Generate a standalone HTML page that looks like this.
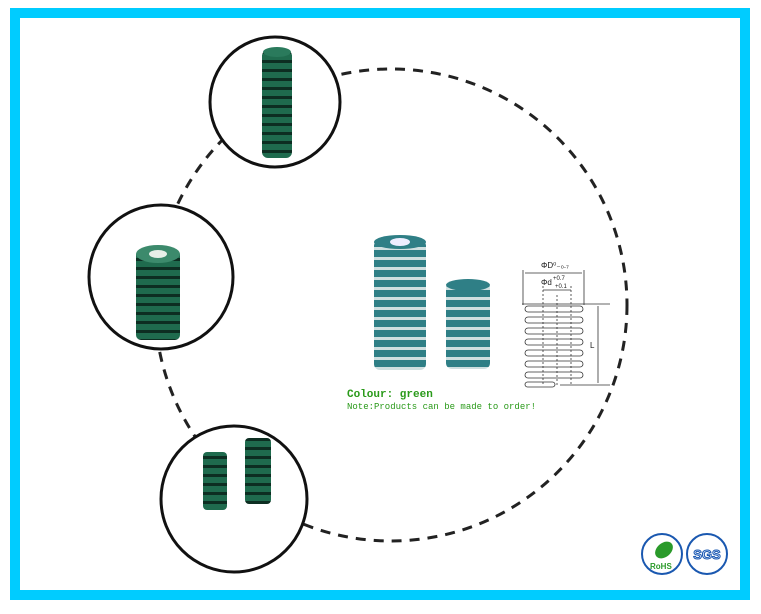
<!DOCTYPE html>
<html><head><style>
body{margin:0;width:761px;height:609px;background:#fff;overflow:hidden;font-family:"Liberation Sans",sans-serif}
</style></head><body>
<svg width="761" height="609" viewBox="0 0 761 609" xmlns="http://www.w3.org/2000/svg">
<defs>
<pattern id="coil" width="10" height="10" patternUnits="userSpaceOnUse">
<rect width="10" height="10" fill="#2f7f86"/><rect y="7" width="10" height="3" fill="#cfdfe0"/>
</pattern>
<pattern id="coilg" width="10" height="9" patternUnits="userSpaceOnUse">
<rect width="10" height="9" fill="#1f6b4e"/><rect y="6" width="10" height="3" fill="#0d2e22"/>
</pattern>
</defs>
<rect x="15" y="13" width="730" height="582" fill="none" stroke="#00ccff" stroke-width="10"/>
<circle cx="391" cy="305" r="236" fill="none" stroke="#222" stroke-width="3" stroke-dasharray="10,8"/>
<circle cx="275" cy="102" r="65" fill="#fff" stroke="#111" stroke-width="3"/>
<rect x="262" y="50" width="30" height="108" rx="6" fill="url(#coilg)"/>
<ellipse cx="277" cy="52" rx="14" ry="5" fill="#2a7a5c"/>
<circle cx="161" cy="277" r="72" fill="#fff" stroke="#111" stroke-width="3"/>
<rect x="136" y="250" width="44" height="90" rx="5" fill="url(#coilg)"/>
<ellipse cx="158" cy="254" rx="22" ry="9" fill="#3c8a6c"/>
<ellipse cx="158" cy="254" rx="9" ry="4" fill="#e8efe8"/>
<circle cx="234" cy="499" r="73" fill="#fff" stroke="#111" stroke-width="3"/>
<rect x="203" y="452" width="24" height="58" rx="4" fill="url(#coilg)"/>
<rect x="245" y="438" width="26" height="66" rx="4" fill="url(#coilg)"/>
<rect x="374" y="240" width="52" height="130" rx="6" fill="url(#coil)"/>
<ellipse cx="400" cy="242" rx="26" ry="7" fill="#2f7f86"/>
<ellipse cx="400" cy="242" rx="10" ry="4" fill="#eef"/>
<rect x="446" y="283" width="44" height="86" rx="6" fill="url(#coil)"/>
<ellipse cx="468" cy="285" rx="22" ry="6" fill="#2f7f86"/>
<text x="347" y="397" font-family="Liberation Mono,monospace" font-size="11" font-weight="bold" fill="#2a9a1a">Colour: green</text>
<text x="347" y="409" font-family="Liberation Mono,monospace" font-size="9" fill="#2a9a1a">Note:Products can be made to order!</text>
<g stroke="#333" stroke-width="0.8" fill="none">
<line x1="523" y1="270" x2="523" y2="305"/><line x1="584" y1="270" x2="584" y2="305"/>
<line x1="525" y1="273" x2="582" y2="273"/>
<line x1="543" y1="290" x2="571" y2="290"/>
<line x1="543" y1="286" x2="543" y2="385" stroke-dasharray="2,2"/>
<line x1="571" y1="286" x2="571" y2="385" stroke-dasharray="2,2"/>
<line x1="557" y1="295" x2="557" y2="385" stroke-dasharray="2,2"/>
<line x1="522" y1="304" x2="610" y2="304"/>
<line x1="560" y1="385" x2="610" y2="385"/>
<line x1="598" y1="306" x2="598" y2="383"/>
<rect x="525" y="306" width="58" height="6" rx="3"/>
<rect x="525" y="317" width="58" height="6" rx="3"/>
<rect x="525" y="328" width="58" height="6" rx="3"/>
<rect x="525" y="339" width="58" height="6" rx="3"/>
<rect x="525" y="350" width="58" height="6" rx="3"/>
<rect x="525" y="361" width="58" height="6" rx="3"/>
<rect x="525" y="372" width="58" height="6" rx="3"/>
<rect x="525" y="382" width="30" height="5" rx="2.5"/>
</g>
<text x="541" y="268" font-size="8" fill="#222">ΦD⁰₋₀.₇</text>
<text x="541" y="285" font-size="8" fill="#222">Φd</text>
<text x="553" y="280" font-size="6" fill="#222">+0.7</text>
<text x="555" y="288" font-size="6" fill="#222">+0.1</text>
<text x="590" y="348" font-size="8" fill="#222">L</text>
<circle cx="662" cy="554" r="20" fill="#fff" stroke="#1a58b0" stroke-width="2"/>
<ellipse cx="664" cy="550" rx="10" ry="7" fill="#2a9a2a" transform="rotate(-40 664 550)"/>
<text x="650" y="569" font-size="8" font-weight="bold" fill="#2a9a2a">RoHS</text>
<circle cx="707" cy="554" r="20" fill="#fff" stroke="#1a58b0" stroke-width="2"/>
<text x="707" y="559" font-size="13" font-weight="bold" fill="#dde8ff" stroke="#1a58b0" stroke-width="1" text-anchor="middle">SGS</text>
</svg>
</body></html>
